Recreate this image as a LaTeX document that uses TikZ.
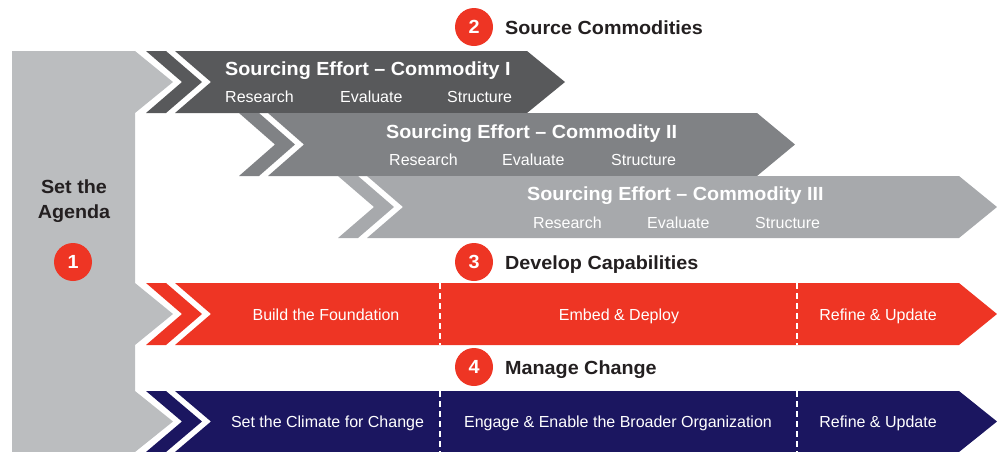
\documentclass[tikz,border=0pt]{standalone}
\usepackage{fontspec}
\setmainfont{Liberation Sans}
\newfontfamily\headfont[FakeStretch=1.04]{Liberation Sans}

\definecolor{colgray}{HTML}{BBBDBF}
\definecolor{darkband}{HTML}{58595B}
\definecolor{midband}{HTML}{808285}
\definecolor{lightband}{HTML}{A7A9AC}
\definecolor{redband}{HTML}{EE3524}
\definecolor{navyband}{HTML}{1B1660}
\definecolor{inkblack}{HTML}{231F20}

% band: fill colour, top, bottom, left corner x, right corner x
\newcommand\bandshape[5]{%
  \fill[#1] (#4,#2) -- (#5,#2) -- ({#5+38},{(#2+#3)/2}) -- (#5,#3) -- (#4,#3)
    -- ({#4+36},{(#2+#3)/2}) -- cycle;
  \fill[#1] ({#4-29},#2) -- ({#4-9},#2) -- ({#4+27},{(#2+#3)/2}) -- ({#4-9},#3)
    -- ({#4-29},#3) -- ({#4+7},{(#2+#3)/2}) -- cycle;
}

\begin{document}
\begin{tikzpicture}[x=1pt,y=-1pt,
  title/.style={font=\headfont\bfseries\fontsize{19}{22}\selectfont, text=white, anchor=base west, inner sep=0pt},
  sub/.style={font=\fontsize{16}{19}\selectfont, text=white, anchor=base west, inner sep=0pt},
  bartext/.style={font=\fontsize{16}{19}\selectfont, text=white, anchor=base, inner sep=0pt},
  header/.style={font=\headfont\bfseries\fontsize{19}{22}\selectfont, text=inkblack, anchor=base west, inner sep=0pt},
  badge/.style={circle, fill=redband, minimum size=38pt, inner sep=0pt, text=white,
    font=\headfont\bfseries\fontsize{19}{22}\selectfont},
  divider/.style={draw=white, line width=1.2pt, dash pattern=on 6pt off 4pt}]

\useasboundingbox (0,0) rectangle (997,451);
\clip (0,0) rectangle (997,451);

% left column with its arrow points
\fill[colgray] (12,51) -- (135,51) -- (173,82) -- (135,113) -- (135,283)
  -- (173,314) -- (135,345) -- (135,391) -- (173,421.5) -- (135,452) -- (12,452) -- cycle;

% sourcing bands
\bandshape{darkband}{51}{113}{175}{527}
\bandshape{midband}{113}{176}{268}{757}
\bandshape{lightband}{176}{238}{367}{959}
% capability and change bands
\bandshape{redband}{283}{345}{175}{959}
\bandshape{navyband}{391}{452}{175}{959}

\draw[divider] (440,283) -- (440,345);
\draw[divider] (797,283) -- (797,345);
\draw[divider] (440,391) -- (440,452);
\draw[divider] (797,391) -- (797,452);

% agenda
\node[font=\headfont\bfseries\fontsize{19}{22}\selectfont, text=inkblack, anchor=base, inner sep=0pt] (agenda1) at (74,193) {Set the};
\node[font=\headfont\bfseries\fontsize{19}{22}\selectfont, text=inkblack, anchor=base, inner sep=0pt] (agenda2) at (74,218) {Agenda};
\node[badge] (b1) at (73,262) {1};

% section headers
\node[badge] (b2) at (474,27) {2};
\node[header] (h2) at (505,34) {Source Commodities};
\node[badge] (b3) at (474,262) {3};
\node[header] (h3) at (505,269) {Develop Capabilities};
\node[badge] (b4) at (474,367) {4};
\node[header] (h4) at (505,374) {Manage Change};

% commodity I
\node[title] (t1) at (225,75) {Sourcing Effort – Commodity I};
\node[sub] (r1) at (225,102) {Research};
\node[sub] (e1) at (340,102) {Evaluate};
\node[sub] (s1) at (447,102) {Structure};
% commodity II
\node[title] (t2) at (386,138) {Sourcing Effort – Commodity II};
\node[sub] (r2) at (389,165) {Research};
\node[sub] (e2) at (502,165) {Evaluate};
\node[sub] (s2) at (611,165) {Structure};
% commodity III
\node[title] (t3) at (527,200) {Sourcing Effort – Commodity III};
\node[sub] (r3) at (533,228) {Research};
\node[sub] (e3) at (647,228) {Evaluate};
\node[sub] (s3) at (755,228) {Structure};

% capabilities
\node[bartext] (c1) at (326,320) {Build the Foundation};
\node[bartext] (c2) at (619,320) {Embed \& Deploy};
\node[bartext] (c3) at (878,320) {Refine \& Update};
% change
\node[bartext] (m1) at (327.5,427) {Set the Climate for Change};
\node[bartext] (m2) at (618,427) {Engage \& Enable the Broader Organization};
\node[bartext] (m3) at (878,427) {Refine \& Update};
\end{tikzpicture}
\end{document}
